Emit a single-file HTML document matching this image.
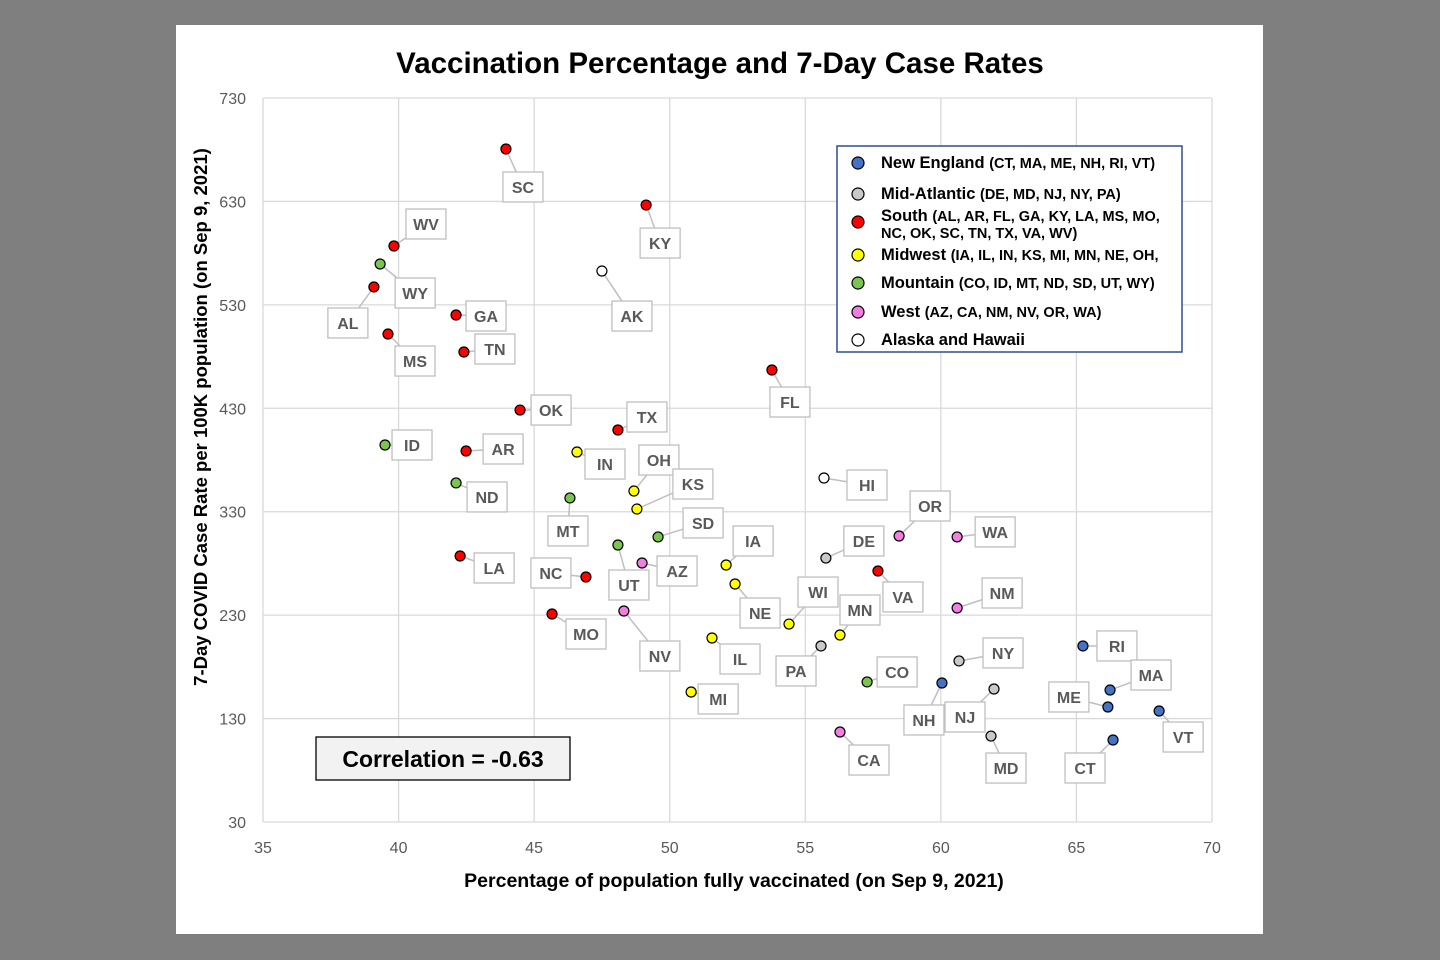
<!DOCTYPE html>
<html><head><meta charset="utf-8"><style>
body{margin:0;width:1440px;height:960px;background:#7f7f7f;overflow:hidden;font-family:"Liberation Sans",sans-serif}
#panel{position:absolute;left:176px;top:25px;width:1087px;height:909px;background:#fff}
svg{position:absolute;left:0;top:0}
</style></head><body>
<div id="panel"></div>
<svg id="chart" width="1440" height="960"></svg>
<script>
const states=["SC","KY","WV","WY","AL","GA","MS","TN","AK","FL","OK","TX","ID","AR","IN","OH","ND","MT","KS","SD","HI","OR","WA","DE","UT","AZ","LA","NC","IA","VA","NE","NM","MO","NV","WI","MN","IL","PA","RI","NY","CO","NH","MI","NJ","MA","ME","VT","CA","MD","CT"];
const vaccinated=[43.96,49.13,39.83,39.32,39.09,42.12,39.61,42.41,47.50,53.77,44.48,48.09,39.50,42.49,46.58,48.68,42.12,46.32,48.79,49.57,55.69,58.46,60.60,55.76,48.09,48.98,42.27,46.91,52.08,57.68,52.41,60.60,45.66,48.31,54.40,56.28,51.56,55.58,65.24,60.67,57.28,60.04,50.79,61.96,66.24,66.16,68.05,56.28,61.85,66.35];
const caseRate=[680.7,626.5,586.9,569.5,547.3,520.2,501.8,484.4,562.7,467.0,428.3,409.0,394.5,388.7,387.7,350.0,357.8,343.3,332.6,305.6,362.6,306.5,305.6,285.2,297.8,280.4,287.2,266.9,278.5,272.7,260.1,236.9,231.1,234.0,221.4,210.8,207.9,200.2,200.2,185.7,165.4,164.4,155.7,158.6,157.6,141.2,137.3,117.0,113.1,109.3];
const region=["S","S","S","M","S","S","S","S","AH","S","S","S","M","S","MW","MW","M","M","MW","M","AH","W","W","MA","M","W","S","S","MW","S","MW","W","S","W","MW","MW","MW","MA","NE","MA","M","NE","MW","MA","NE","NE","NE","W","MA","NE"];
const labelOffsets=[[17,38],[14,38],[32,-22],[35,29],[-26,36],[30,1],[27,27],[31,-3],[30,45],[18,32],[31,0],[29,-13],[27,0],[37,-2],[28,12],[25,-31],[31,14],[-2,33],[56,-25],[45,-14],[43,7],[31,-30],[38,-5],[38,-17],[11,40],[35,8],[34,12],[-35,-4],[27,-24],[25,26],[25,29],[45,-15],[34,20],[36,45],[29,-32],[20,-25],[28,21],[-25,25],[34,0],[44,-8],[30,-10],[-18,37],[27,7],[-29,28],[41,-15],[-39,-10],[24,26],[29,28],[15,32],[-28,28]];
const xTicks=[35,40,45,50,55,60,65,70];
const yTicks=[30,130,230,330,430,530,630,730];
const colors={NE:"#4472c4",MA:"#c9c9c9",S:"#ff0000",MW:"#ffff00",M:"#7cc450",W:"#f27ee0",AH:"#ffffff"};
const legendItems=[["NE","New England","(CT, MA, ME, NH, RI, VT)"],["MA","Mid-Atlantic","(DE, MD, NJ, NY, PA)"],["S","South","(AL, AR, FL, GA, KY, LA, MS, MO,"],["MW","Midwest","(IA, IL, IN, KS, MI, MN, NE, OH,"],["M","Mountain","(CO, ID, MT, ND, SD, UT, WY)"],["W","West","(AZ, CA, NM, NV, OR, WA)"],["AH","Alaska and Hawaii",""]];
const correlation="-0.63";

const X0=263,X1=1212,Y0=822,Y1=98;
const xs=v=>X0+(v-35)/(70-35)*(X1-X0);
const ys=v=>Y0-(v-30)/(730-30)*(Y0-Y1);
const svg=document.getElementById('chart');
const NS="http://www.w3.org/2000/svg";
function mk(tag,attrs,txt){const e=document.createElementNS(NS,tag);for(const k in attrs)e.setAttribute(k,attrs[k]);if(txt!==undefined)e.textContent=txt;svg.appendChild(e);return e;}

let t=mk('text',{x:720,y:73,'text-anchor':'middle','font-size':29.5,'font-weight':'bold',fill:'#000'},'Vaccination Percentage and 7-Day Case Rates');


xTicks.forEach(v=>{let l=mk('line',{x1:xs(v),x2:xs(v),y1:Y1,y2:Y0,stroke:'#d9d9d9','stroke-width':1.3});

let tx=mk('text',{x:xs(v),y:853,'text-anchor':'middle','font-size':16,fill:'#595959'},v);
});
yTicks.forEach(v=>{let l=mk('line',{x1:X0,x2:X1,y1:ys(v),y2:ys(v),stroke:'#d9d9d9','stroke-width':1.3});

let tx=mk('text',{x:246,y:ys(v)+6,'text-anchor':'end','font-size':16,fill:'#595959'},v);
});

t=mk('text',{x:734,y:887,'text-anchor':'middle','font-size':19.5,'font-weight':'bold',fill:'#000'},'Percentage of population fully vaccinated (on Sep 9, 2021)');

t=mk('text',{x:0,y:0,'text-anchor':'middle','font-size':18.5,'font-weight':'bold',fill:'#000',transform:'translate(207,417) rotate(-90)'},'7-Day COVID Case Rate per 100K population (on Sep 9, 2021)');


states.forEach((s,i)=>{
 const px=xs(vaccinated[i]),py=ys(caseRate[i]);const [dx,dy]=labelOffsets[i];
 const cx=px+dx,cy=py+dy;
 let l=mk('line',{x1:px,y1:py,x2:cx,y2:cy,stroke:'#bfbfbf','stroke-width':1.5});
 
 let r=mk('rect',{x:cx-20,y:cy-15,width:40,height:30,fill:'#fff',stroke:'#bfbfbf','stroke-width':1.3});
 
 let tx=mk('text',{x:cx,y:cy+6,'text-anchor':'middle','font-size':16,'font-weight':'bold',fill:'#595959'},s);
 
});
states.forEach((s,i)=>{
 let c=mk('circle',{cx:xs(vaccinated[i]),cy:ys(caseRate[i]),r:5,fill:colors[region[i]],stroke:'#000','stroke-width':1.2});
 
});

let lb=mk('rect',{x:837,y:146,width:345,height:206,fill:'#fff',stroke:'#2f4f8f','stroke-width':1.5});

const ly=[163,194,222,255,283,312,340];
legendItems.forEach((it,i)=>{
 let c=mk('circle',{cx:858,cy:ly[i],r:6,fill:colors[it[0]],stroke:'#000','stroke-width':1.2});
 
 let ty=i==2?ly[i]-1:ly[i]+5;
 let tx=mk('text',{x:881,y:ty,'font-size':16.5,'font-weight':'bold',fill:'#000'});
 
 const a=document.createElementNS(NS,'tspan');a.textContent=it[1]+' ';tx.appendChild(a);
 const b=document.createElementNS(NS,'tspan');b.setAttribute('font-size','14.5');b.textContent=it[2];tx.appendChild(b);
});
t=mk('text',{x:881,y:238,'font-size':14.5,'font-weight':'bold',fill:'#000'},'NC, OK, SC, TN, TX, VA, WV)');


let cb=mk('rect',{x:316,y:737,width:254,height:43,fill:'#f2f2f2',stroke:'#000','stroke-width':1.3});

t=mk('text',{x:443,y:767,'text-anchor':'middle','font-size':23,'font-weight':'bold',fill:'#000'},'Correlation = '+correlation);

</script>
</body></html>
